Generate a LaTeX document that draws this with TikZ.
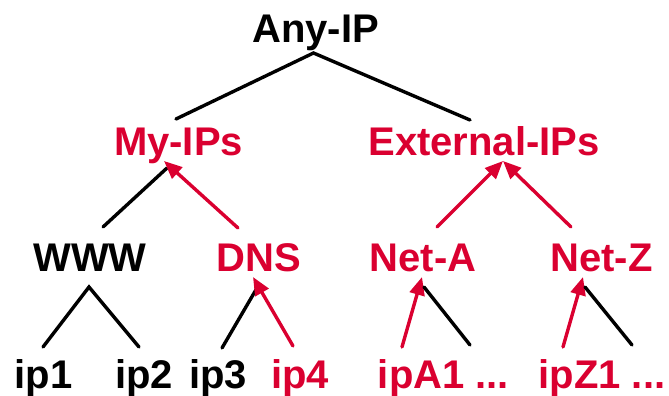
\documentclass[tikz,border=0pt]{standalone}
\usepackage{fontspec}
\setmainfont{Liberation Sans}
\usetikzlibrary{arrows.meta}
\definecolor{hotred}{RGB}{218,0,48}
\tikzset{
  lbl/.style={anchor=base, inner sep=0pt, font=\fontsize{40}{48}\selectfont\bfseries},
  redlbl/.style={lbl, text=hotred},
  edge/.style={line width=3.4pt, line cap=round},
  up/.style={edge, draw=hotred, -{Triangle[length=18pt,width=15pt]}},
}
\begin{document}
\begin{tikzpicture}[x=1pt,y=1pt]
\useasboundingbox (0,0) rectangle (669,396);
% labels
\node[lbl]    (any)  at (315.5,353) {Any-IP};
\node[redlbl] (my)   at (178.5,240) {My-IPs};
\node[redlbl] (ext)  at (484,240)   {External-IPs};
\node[lbl]    (www)  at (90,124)    {WWW};
\node[redlbl] (dns)  at (258.5,124) {DNS};
\node[redlbl] (neta) at (423,124)   {Net-A};
\node[redlbl] (netz) at (601.5,124) {Net-Z};
\node[lbl]    (ip1)  at (43.5,7)    {ip1};
\node[lbl]    (ip2)  at (144,7)     {ip2};
\node[lbl]    (ip3)  at (218,7)     {ip3};
\node[redlbl] (ip4)  at (300,7)     {ip4};
\node[redlbl] (ipa)  at (443.5,7)   {ipA1 ...};
\node[redlbl] (ipz)  at (602,7)     {ipZ1 ...};
% top level
\draw[edge] ([shift={(-2.5,37)}]my.base) -- ([shift={(-2,-10)}]any.base) -- ([shift={(-14,36)}]ext.base);
% second level
\draw[edge] ([shift={(-11.5,-12)}]my.base) -- ([shift={(13,45)}]www.base);
\draw[up] ([shift={(-20.5,44)}]dns.base) -- ([shift={(-14.5,-5)}]my.base);
\draw[up] ([shift={(14,45)}]neta.base) -- ([shift={(19,-5)}]ext.base);
\draw[up] ([shift={(-30.5,45)}]netz.base) -- ([shift={(19,-5)}]ext.base);
% third level
\draw[edge] ([shift={(-0.5,42)}]ip1.base) -- ([shift={(-1,-15)}]www.base) -- ([shift={(-5,42)}]ip2.base);
\draw[edge] ([shift={(-1.5,-16)}]dns.base) -- ([shift={(4,41)}]ip3.base);
\draw[up] ([shift={(-7,43)}]ip4.base) -- ([shift={(-5.5,-5)}]dns.base);
\draw[up] ([shift={(-41.5,42)}]ipa.base) -- ([shift={(-1,-5)}]neta.base);
\draw[edge] ([shift={(1,-15)}]neta.base) -- ([shift={(26.5,44)}]ipa.base);
\draw[up] ([shift={(-39,42)}]ipz.base) -- ([shift={(-18.5,-5)}]netz.base);
\draw[edge] ([shift={(-16.5,-15)}]netz.base) -- ([shift={(30,44)}]ipz.base);
\end{tikzpicture}
\end{document}
